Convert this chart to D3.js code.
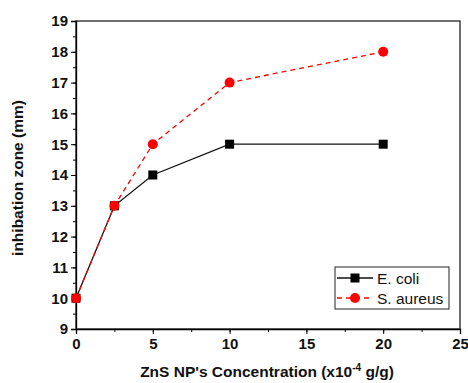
<!DOCTYPE html>
<html>
  <head>
  <title>Inhibition zone</title>
  </head>
  <body>
    <style>
        body, html {
          margin: 0;
          padding: 0;
          background: #fff;
        }
        text {
          font-family: Arial, "Liberation Sans", sans-serif;
        }
      </style>

  <svg id="svg" width="468" height="383"></svg>

  <script src="https://d3js.org/d3.v7.min.js"></script>
  <script>
    // concentration (x10^-4 g/g)
    const concentration = [0, 2.5, 5, 10, 20]
    const ecoli = [10, 13, 14, 15, 15]
    const saureus = [10, 13, 15, 17, 18]
    const seriesNames = ['E. coli', 'S. aureus']
    const xTicks = [0, 5, 10, 15, 20, 25]
    const yTicks = [9, 10, 11, 12, 13, 14, 15, 16, 17, 18, 19]

    const width = 468
    const height = 383
    const margin = {left: 76, right: 8, top: 21, bottom: 54}

    const xscale = d3.scaleLinear()
        .domain([0, 25])
        .range([margin.left, width - margin.right])
    const yscale = d3.scaleLinear()
        .domain([9, 19])
        .range([height - margin.bottom, margin.top])

    const svg = d3.select('#svg')

    // frame
    svg.append('rect')
        .attr('x', margin.left)
        .attr('y', margin.top)
        .attr('width', xscale(25) - margin.left)
        .attr('height', yscale(9) - margin.top)
        .attr('fill', 'none')
        .attr('stroke', '#222')
        .attr('stroke-width', 1.3)

    // minor ticks
    const xMinor = d3.range(0, 25.01, 2.5)
    const yMinor = d3.range(9, 19.01, 0.5)
    svg.append('g')
        .attr('transform', `translate(0, ${yscale(9)})`)
        .call(d3.axisBottom(xscale).tickValues(xMinor).tickSize(3).tickFormat(''))
        .call(g => g.select('.domain').remove())
    svg.append('g')
        .attr('transform', `translate(${margin.left}, 0)`)
        .call(d3.axisLeft(yscale).tickValues(yMinor).tickSize(3).tickFormat(''))
        .call(g => g.select('.domain').remove())

    // major axes
    const bottomAxis = d3.axisBottom(xscale).tickValues(xTicks).tickSize(5).tickPadding(4)
    const leftAxis = d3.axisLeft(yscale).tickValues(yTicks).tickSize(5).tickPadding(3)

    svg.append('g')
        .attr('transform', `translate(0, ${yscale(9)})`)
        .call(bottomAxis)
        .call(g => g.select('.domain').attr('stroke-width', 1.3))
        .selectAll('text')
        .attr('font-size', 15)
        .attr('font-weight', 'bold')
        .attr('fill', '#111')

    svg.append('g')
        .attr('transform', `translate(${margin.left}, 0)`)
        .call(leftAxis)
        .call(g => g.select('.domain').attr('stroke-width', 1.3))
        .selectAll('text')
        .attr('font-size', 15)
        .attr('font-weight', 'bold')
        .attr('fill', '#111')

    // axis titles
    const xTitle = svg.append('text')
        .attr('x', (margin.left + width - margin.right) / 2 - 1)
        .attr('y', 377)
        .attr('text-anchor', 'middle')
        .attr('font-size', 15.5)
        .attr('font-weight', 'bold')
        .attr('fill', '#111')
    xTitle.append('tspan').text("ZnS NP's Concentration (x10")
    xTitle.append('tspan').attr('dy', -6).attr('font-size', 10).text('-4')
    xTitle.append('tspan').attr('dy', 6).text(' g/g)')

    svg.append('text')
        .attr('transform', `translate(23, ${yscale(14) + 3}) rotate(-90)`)
        .attr('text-anchor', 'middle')
        .attr('font-size', 15.5)
        .attr('font-weight', 'bold')
        .attr('fill', '#111')
        .text('inhibation zone (mm)')

    const ecoliData = concentration.map((c, i) => ({x: c, y: ecoli[i]}))
    const saureusData = concentration.map((c, i) => ({x: c, y: saureus[i]}))

    const linegen = d3.line()
        .x(d => xscale(d.x))
        .y(d => yscale(d.y))
        .curve(d3.curveLinear)

    // E. coli
    svg.append('path')
        .attr('d', linegen(ecoliData))
        .attr('stroke', '#111')
        .attr('stroke-width', 1.3)
        .attr('fill', 'none')

    // S. aureus
    svg.append('path')
        .attr('d', linegen(saureusData))
        .attr('stroke', 'red')
        .attr('stroke-width', 1.3)
        .attr('stroke-dasharray', '5,4')
        .attr('fill', 'none')

    svg.append('g')
        .selectAll('rect')
        .data(ecoliData)
        .join('rect')
        .attr('x', d => xscale(d.x) - 4.5)
        .attr('y', d => yscale(d.y) - 4.5)
        .attr('width', 9)
        .attr('height', 9)
        .attr('fill', '#000')

    svg.append('g')
        .selectAll('circle')
        .data(saureusData)
        .join('circle')
        .attr('cx', d => xscale(d.x))
        .attr('cy', d => yscale(d.y))
        .attr('r', 5)
        .attr('fill', 'red')

    // legend
    const legend = svg.append('g').attr('transform', 'translate(335, 267)')
    legend.append('rect')
        .attr('width', 114)
        .attr('height', 42)
        .attr('fill', '#fff')
        .attr('stroke', '#222')
        .attr('stroke-width', 1)

    const rows = [
        {name: seriesNames[0], color: '#111', dash: null, shape: 'square'},
        {name: seriesNames[1], color: 'red', dash: '5,4', shape: 'circle'}
    ]
    rows.forEach((r, i) => {
        const y = 11 + i * 20
        legend.append('line')
            .attr('x1', 2).attr('x2', 38)
            .attr('y1', y).attr('y2', y)
            .attr('stroke', r.color)
            .attr('stroke-width', 1.3)
            .attr('stroke-dasharray', r.dash)
        if (r.shape === 'square') {
            legend.append('rect')
                .attr('x', 20 - 4.5).attr('y', y - 4.5)
                .attr('width', 9).attr('height', 9)
                .attr('fill', '#000')
        } else {
            legend.append('circle')
                .attr('cx', 20).attr('cy', y).attr('r', 5)
                .attr('fill', 'red')
        }
        legend.append('text')
            .attr('x', 42)
            .attr('y', y + 5.5)
            .attr('font-size', 15.5)
            .attr('fill', '#111')
            .text(r.name)
    })
  </script>
  </body>
</html>
